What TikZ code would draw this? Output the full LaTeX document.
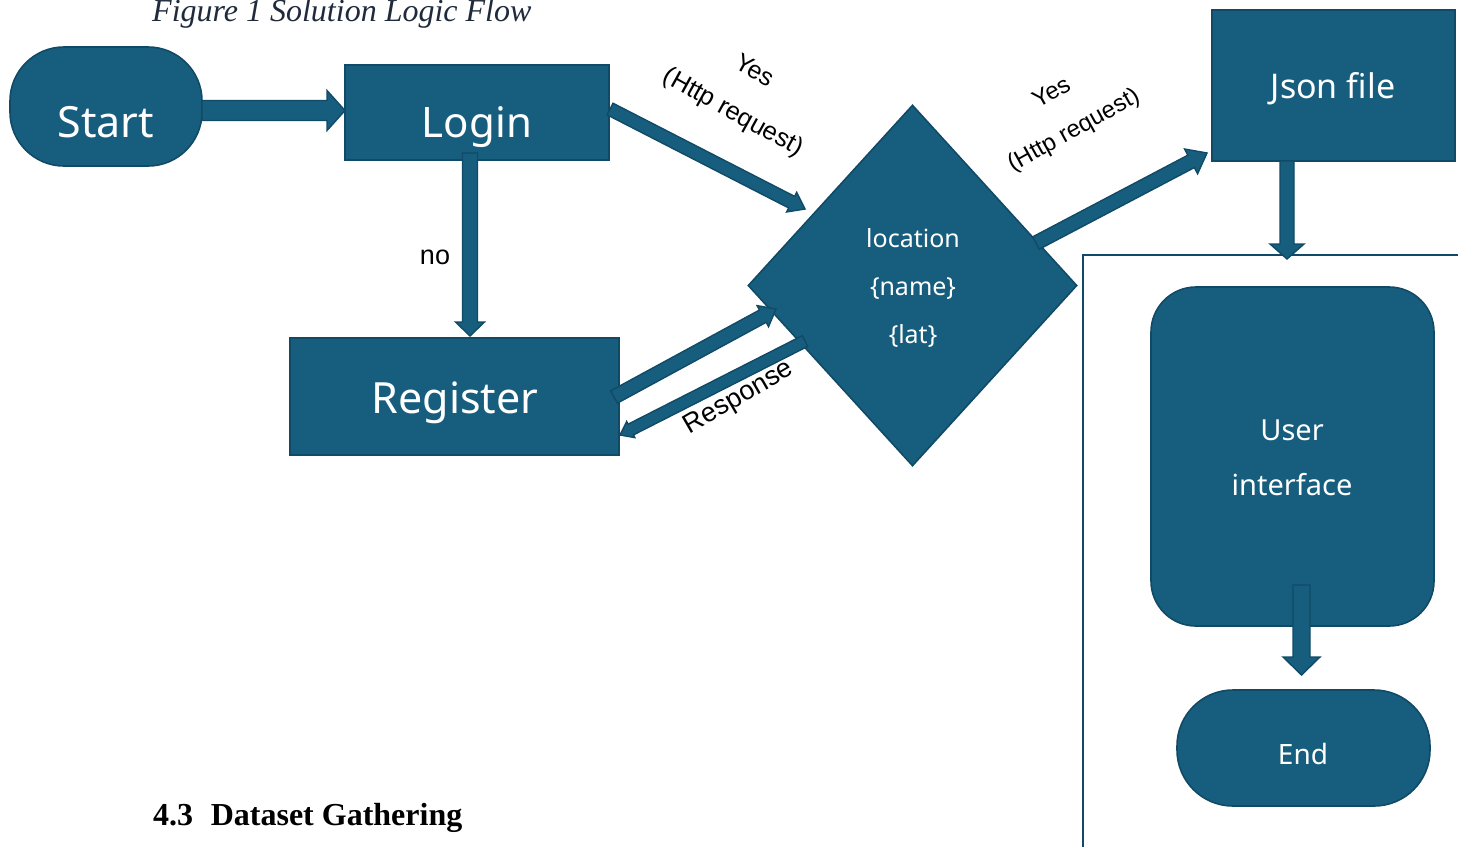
\documentclass[tikz,border=0pt]{standalone}
\usepackage{fontspec}
\setmainfont{Liberation Serif}
\newfontfamily\boxfont{Noto Sans}
\newfontfamily\lblfont{Liberation Sans}
\usetikzlibrary{calc,shapes.geometric}
\definecolor{boxfill}{HTML}{175E7E}
\definecolor{boxline}{HTML}{114A66}
\definecolor{captext}{HTML}{1F2A3C}
% block arrow: #1 from, #2 to, #3 half shaft width, #4 half head width, #5 head length
\newcommand\barrow[5]{%
  \draw[arr] ($(#1)!#3!90:(#2)$) -- ($(#2)!#5!(#1)!#3!90:(#2)$)
    -- ($(#2)!#5!(#1)!#4!90:(#2)$) -- (#2)
    -- ($(#2)!#5!(#1)!#4!-90:(#2)$) -- ($(#2)!#5!(#1)!#3!-90:(#2)$)
    -- ($(#1)!#3!-90:(#2)$) -- cycle;}
\begin{document}
\begin{tikzpicture}[x=1pt,y=-1pt,
  box/.style={draw=boxline, fill=boxfill, line width=1.6pt, inner sep=0pt},
  arr/.style={fill=boxfill, draw=boxline, line width=1.4pt, line join=miter},
  txt/.style={text=white, anchor=base, inner sep=0pt, font=\boxfont\fontsize{#1}{#1}\selectfont},
  lbl/.style={text=black, inner sep=0pt, font=\lblfont\fontsize{#1}{#1}\selectfont},
  frameline/.style={draw=boxline, line width=2pt}]
\useasboundingbox (0,0) rectangle (1458,847);

% caption and heading
\node[anchor=base west, inner sep=0pt, text=captext, font=\itshape\fontsize{32}{32}\selectfont] (cap) at (152,21.5) {Figure 1 Solution Logic Flow};
\node[anchor=base west, inner sep=0pt, font=\bfseries\fontsize{32}{32}\selectfont] (h43) at (153,825) {4.3\hspace{0.55em}Dataset Gathering};

% shapes
\node[box, rounded corners=54pt, minimum width=192pt, minimum height=119pt] (start) at (106,106.5) {};
\node[box, minimum width=264pt, minimum height=95pt] (login) at (477,112.5) {};
\node[box, minimum width=329pt, minimum height=117pt] (register) at (454.5,396.5) {};
\node[box, diamond, minimum width=329pt, minimum height=361pt] (loc) at (912.5,285.5) {};
\node[box, minimum width=243pt, minimum height=151pt] (json) at (1333.5,85.5) {};
\coordinate (frB) at (1083,847);
\coordinate (frC) at (1083,255);
\coordinate (frR) at (1458,255);
\draw[frameline] (frB) -- (frC) -- (frR);
\node[box, rounded corners=45pt, minimum width=283pt, minimum height=339pt] (ui) at (1292.5,456.5) {};
\node[box, rounded corners=56pt, minimum width=253pt, minimum height=116pt] (end) at (1303.5,748) {};

% arrow end points
\coordinate (a1s) at (202,110.5);   \coordinate (a1e) at (345,110.5);
\coordinate (a2s) at (470,153);     \coordinate (a2e) at (470,336);
\coordinate (a3s) at (610,109);     \coordinate (a3e) at (805,209);
\coordinate (a4s) at (1036,243);    \coordinate (a4e) at (1207,153);
\coordinate (a5s) at (614,397);     \coordinate (a5e) at (776,309);
\coordinate (a6s) at (805,341);     \coordinate (a6e) at (620,435);
\coordinate (a7s) at (1287,161);    \coordinate (a7e) at (1287,259);
\coordinate (a8s) at (1301.5,585);  \coordinate (a8e) at (1301.5,675);

\barrow{a1s}{a1e}{10pt}{20pt}{18pt}
\barrow{a2s}{a2e}{7.5pt}{14.5pt}{14pt}
\barrow{a3s}{a3e}{6.5pt}{11pt}{15pt}
\barrow{a4s}{a4e}{7pt}{14pt}{18pt}
\barrow{a5s}{a5e}{7pt}{12pt}{15pt}
\barrow{a6s}{a6e}{6pt}{9pt}{12pt}
\barrow{a7s}{a7e}{7pt}{17pt}{15pt}
\barrow{a8s}{a8e}{8.5pt}{18.5pt}{18pt}

% texts in shapes
\node[txt=43] (startT) at (106,137) {Start};
\node[txt=42] (loginT) at (477,137) {Login};
\node[txt=43] (registerT) at (455,413) {Register};
\node[txt=34] (jsonT) at (1333,98) {Json file};
\node[txt=25] (locT1) at (913,247) {location};
\node[txt=25] (locT2) at (913,295) {\{name\}};
\node[txt=25] (locT3) at (913,343) {\{lat\}};
\node[txt=29] (uiT1) at (1292,440) {User};
\node[txt=29] (uiT2) at (1292,495) {interface};
\node[txt=28] (endT) at (1303,764) {End};

% connector labels
\node[lbl=27] (noT) at (435,257) {no};
\node[lbl=25, rotate=-29] (yes1) at (755,70) {Yes};
\node[lbl=25.5, rotate=-29] (http1) at (733,113) {(Http request)};
\node[lbl=24, rotate=29] (yes2) at (1051,92) {Yes};
\node[lbl=24, rotate=29] (http2) at (1074,131) {(Http request)};
\node[lbl=27, rotate=30] (resp) at (739,398) {Response};
\end{tikzpicture}
\end{document}
